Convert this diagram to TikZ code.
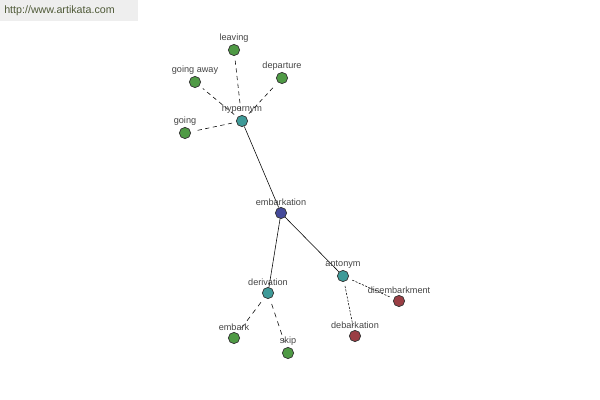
\documentclass[tikz,border=0pt]{standalone}
\usepackage{fontspec}
\setmainfont{Liberation Sans}
\usetikzlibrary{backgrounds}
\definecolor{leafgreen}{HTML}{4F9A45}
\definecolor{relteal}{HTML}{3E9A98}
\definecolor{rootblue}{HTML}{444A9A}
\definecolor{antired}{HTML}{9A3E44}
\definecolor{lblgray}{HTML}{444444}
\definecolor{markgray}{HTML}{EEEEEE}
\definecolor{markolive}{HTML}{4F5A38}
\tikzset{
  word/.style={circle, draw=black!80, line width=0.5pt, inner sep=0pt, minimum size=8pt,
    label={[lblgray, font=\fontsize{6.5}{7}\selectfont, inner sep=0pt, label distance=1pt]above:#1}},
  hyperlink/.style={dash pattern=on 3pt off 2.5pt, shorten <=3pt, shorten >=3pt},
  derivlink/.style={dash pattern=on 3.5pt off 3pt, shorten <=4pt, shorten >=4pt},
  antolink/.style={dash pattern=on 1.5pt off 1pt, shorten <=3pt, shorten >=3pt}
}
\begin{document}
\begin{tikzpicture}[x=0.025cm, y=-0.025cm]
        \useasboundingbox (0,0) rectangle (600,400);

        % watermark
        \fill[markgray] (0,0) rectangle (138,21);
        \node[markolive, font=\fontsize{7.6}{9}\selectfont, anchor=west, inner sep=0pt] (mark) at (4,11) {http://www.artikata.com};

        % root and relation nodes
        \node[word=embarkation, fill=rootblue] (embarkation) at (281,213) {};
        \node[word=hypernym, fill=relteal] (hypernym) at (242,121) {};
        \node[word=derivation, fill=relteal] (derivation) at (268,293) {};
        \node[word=antonym, fill=relteal] (antonym) at (343,276) {};

        % hypernyms
        \node[word=leaving, fill=leafgreen] (leaving) at (234,50) {};
        \node[word=going away, fill=leafgreen] (goingaway) at (195,82) {};
        \node[word=departure, fill=leafgreen] (departure) at (282,78) {};
        \node[word=going, fill=leafgreen] (going) at (185,133) {};

        % derivations
        \node[word=embark, fill=leafgreen] (embark) at (234,338) {};
        \node[word=skip, fill=leafgreen] (skip) at (288,353) {};

        % antonyms
        \node[word=debarkation, fill=antired] (debarkation) at (355,336) {};
        \node[word=disembarkment, fill=antired] (disembarkment) at (399,301) {};

        \begin{scope}[on background layer, line width=0.6pt]
            \draw (embarkation) -- (hypernym);
            \draw (embarkation) -- (derivation);
            \draw (embarkation) -- (antonym);

            \foreach \w in {leaving, goingaway, departure, going}
                \draw[hyperlink] (hypernym) -- (\w);
            \foreach \w in {embark, skip}
                \draw[derivlink] (derivation) -- (\w);
            \foreach \w in {debarkation, disembarkment}
                \draw[antolink] (antonym) -- (\w);
        \end{scope}

    \end{tikzpicture}
\end{document}
